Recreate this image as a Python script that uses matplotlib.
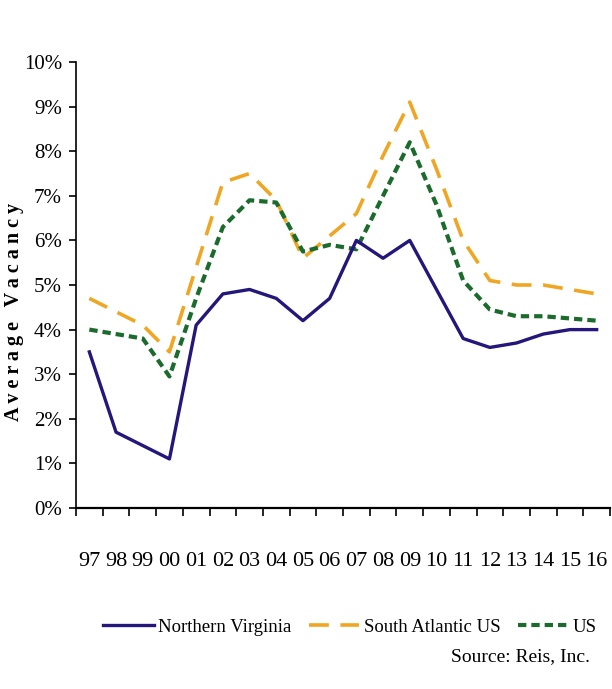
import numpy as np
import matplotlib.pyplot as plt
from matplotlib.ticker import FixedLocator, PercentFormatter

years = ['97', '98', '99', '00', '01', '02', '03', '04', '05', '06',
         '07', '08', '09', '10', '11', '12', '13', '14', '15', '16']

# average vacancy, percent
nova = [3.5, 1.7, 1.4, 1.1, 4.1, 4.8, 4.9, 4.7, 4.2, 4.7,
        6.0, 5.6, 6.0, 4.9, 3.8, 3.6, 3.7, 3.9, 4.0, 4.0]
south_atl = [4.7, 4.4, 4.1, 3.5, 5.4, 7.3, 7.5, 6.9, 5.6, 6.1,
             6.6, 7.9, 9.1, 7.6, 6.0, 5.1, 5.0, 5.0, 4.9, 4.8]
us = [4.0, 3.9, 3.8, 2.95, 4.7, 6.3, 6.9, 6.85, 5.75, 5.9,
      5.8, 7.0, 8.2, 6.8, 5.1, 4.45, 4.3, 4.3, 4.25, 4.2]

plt.rcParams['font.family'] = ['Liberation Serif', 'DejaVu Serif']

fig = plt.figure(figsize=(6.12, 6.89), dpi=100)
ax = fig.add_axes([76/612, 1-508/689, 534/612, 446/689])

x = np.arange(len(years))
ax.plot(x, nova, color='#24167A', lw=2.4, label='Northern Virginia', zorder=3)
ax.plot(x, south_atl, color='#F0A623', lw=2.6, dashes=(5.5, 3.2), label='South Atlantic US', zorder=2)
ax.plot(x, us, color='#1A6B2C', lw=3.0, dashes=(2.0, 1.2), label='US', zorder=2)

ax.set_xlim(-0.5, len(years)-0.5)
ax.set_ylim(0, 10)
ax.yaxis.set_major_locator(FixedLocator(range(0, 11)))
ax.yaxis.set_major_formatter(PercentFormatter(decimals=0))

ax.set_xticks(x)
ax.set_xticklabels(years)
ax.set_xticks(np.arange(-0.5, len(years)), minor=True)
ax.tick_params(axis='x', which='major', length=0, pad=32, labelsize=16)
ax.tick_params(axis='x', which='minor', length=6, width=1.2, direction='out')
ax.tick_params(axis='y', length=5, width=1.2, pad=5, labelsize=15)

for s in ['top', 'right']:
    ax.spines[s].set_visible(False)
ax.spines['left'].set_linewidth(1.2)
ax.spines['bottom'].set_linewidth(1.6)

ax.set_ylabel('A v e r a g e   V a c a n c y', fontsize=14.5, fontweight='bold', va='center')
ax.yaxis.set_label_coords(-62/534, 0.44)

fig.legend(loc='center', bbox_to_anchor=(350/612, 1-627/689), ncol=3, frameon=False,
           fontsize=13.5, handlelength=2.7, handletextpad=0.25, columnspacing=0.9)
fig.text(590/612, 1-657/689, 'Source: Reis, Inc.', ha='right', va='center', fontsize=14)

fig.savefig('out.png', dpi=100)
